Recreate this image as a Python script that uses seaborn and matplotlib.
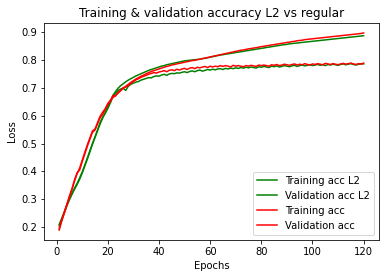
import matplotlib
matplotlib.use("Agg")
import matplotlib.pyplot as plt
import seaborn as sns
import pandas as pd

epochs = list(range(1, 121))

train_acc_l2 = [
    0.205, 0.228, 0.252, 0.276, 0.298, 0.318, 0.336, 0.353, 0.372, 0.394,
    0.419, 0.444, 0.470, 0.497, 0.521, 0.546, 0.570, 0.591, 0.611, 0.632,
    0.652, 0.672, 0.686, 0.698, 0.707, 0.714, 0.721, 0.727, 0.732, 0.737,
    0.742, 0.746, 0.750, 0.754, 0.758, 0.762, 0.765, 0.768, 0.771, 0.774,
    0.777, 0.779, 0.782, 0.784, 0.786, 0.788, 0.790, 0.792, 0.794, 0.796,
    0.797, 0.798, 0.799, 0.800, 0.801, 0.802, 0.804, 0.805, 0.807, 0.809,
    0.811, 0.813, 0.815, 0.817, 0.818, 0.820, 0.821, 0.823, 0.824, 0.826,
    0.827, 0.829, 0.830, 0.832, 0.833, 0.835, 0.836, 0.838, 0.839, 0.841,
    0.842, 0.844, 0.845, 0.847, 0.848, 0.850, 0.851, 0.853, 0.854, 0.855,
    0.857, 0.858, 0.859, 0.860, 0.861, 0.862, 0.863, 0.864, 0.865, 0.866,
    0.867, 0.868, 0.869, 0.870, 0.871, 0.872, 0.873, 0.874, 0.875, 0.876,
    0.877, 0.878, 0.879, 0.880, 0.881, 0.882, 0.883, 0.884, 0.885, 0.886,
]

val_acc_l2 = [
    0.210, 0.232, 0.255, 0.280, 0.302, 0.322, 0.340, 0.357, 0.377, 0.398,
    0.423, 0.448, 0.474, 0.500, 0.524, 0.549, 0.575, 0.594, 0.608, 0.625,
    0.645, 0.668, 0.680, 0.690, 0.695, 0.698, 0.690, 0.705, 0.712, 0.716,
    0.720, 0.722, 0.727, 0.730, 0.733, 0.736, 0.735, 0.740, 0.742, 0.741,
    0.745, 0.748, 0.744, 0.749, 0.751, 0.750, 0.753, 0.752, 0.755, 0.757,
    0.754, 0.758, 0.760, 0.757, 0.761, 0.763, 0.759, 0.762, 0.765, 0.763,
    0.766, 0.764, 0.767, 0.768, 0.765, 0.769, 0.767, 0.770, 0.768, 0.771,
    0.769, 0.772, 0.770, 0.773, 0.771, 0.774, 0.772, 0.770, 0.775, 0.773,
    0.776, 0.774, 0.772, 0.777, 0.775, 0.778, 0.774, 0.776, 0.779, 0.777,
    0.775, 0.778, 0.780, 0.776, 0.779, 0.781, 0.778, 0.780, 0.782, 0.779,
    0.781, 0.783, 0.780, 0.782, 0.779, 0.783, 0.781, 0.784, 0.782, 0.780,
    0.783, 0.785, 0.782, 0.784, 0.786, 0.783, 0.781, 0.784, 0.786, 0.785,
]

train_acc = [
    0.190, 0.222, 0.250, 0.280, 0.308, 0.335, 0.365, 0.392, 0.412, 0.440,
    0.468, 0.495, 0.520, 0.545, 0.552, 0.575, 0.598, 0.612, 0.625, 0.643,
    0.655, 0.664, 0.672, 0.680, 0.689, 0.697, 0.705, 0.712, 0.719, 0.725,
    0.731, 0.736, 0.741, 0.745, 0.750, 0.754, 0.758, 0.761, 0.764, 0.767,
    0.770, 0.773, 0.776, 0.778, 0.781, 0.783, 0.785, 0.787, 0.789, 0.791,
    0.793, 0.795, 0.797, 0.798, 0.800, 0.802, 0.804, 0.806, 0.808, 0.810,
    0.812, 0.814, 0.816, 0.818, 0.820, 0.822, 0.824, 0.826, 0.828, 0.830,
    0.832, 0.834, 0.835, 0.837, 0.839, 0.840, 0.842, 0.843, 0.845, 0.847,
    0.848, 0.850, 0.851, 0.853, 0.854, 0.856, 0.857, 0.859, 0.860, 0.862,
    0.863, 0.865, 0.866, 0.868, 0.869, 0.870, 0.872, 0.873, 0.874, 0.875,
    0.876, 0.877, 0.878, 0.879, 0.880, 0.881, 0.882, 0.883, 0.884, 0.885,
    0.886, 0.887, 0.888, 0.889, 0.890, 0.891, 0.892, 0.893, 0.894, 0.896,
]

val_acc = [
    0.195, 0.225, 0.255, 0.282, 0.312, 0.338, 0.370, 0.395, 0.405, 0.435,
    0.462, 0.490, 0.515, 0.540, 0.548, 0.570, 0.592, 0.605, 0.622, 0.640,
    0.650, 0.672, 0.670, 0.683, 0.690, 0.700, 0.702, 0.708, 0.715, 0.722,
    0.728, 0.732, 0.737, 0.741, 0.744, 0.748, 0.751, 0.754, 0.752, 0.756,
    0.758, 0.761, 0.757, 0.762, 0.764, 0.761, 0.766, 0.763, 0.767, 0.769,
    0.765, 0.770, 0.772, 0.768, 0.773, 0.771, 0.774, 0.776, 0.772, 0.777,
    0.774, 0.777, 0.775, 0.779, 0.776, 0.779, 0.777, 0.774, 0.780, 0.777,
    0.779, 0.777, 0.775, 0.779, 0.777, 0.780, 0.778, 0.776, 0.781, 0.779,
    0.781, 0.779, 0.777, 0.782, 0.780, 0.783, 0.779, 0.781, 0.784, 0.782,
    0.780, 0.783, 0.785, 0.781, 0.784, 0.782, 0.786, 0.783, 0.781, 0.785,
    0.783, 0.786, 0.784, 0.782, 0.787, 0.785, 0.783, 0.786, 0.784, 0.782,
    0.785, 0.787, 0.784, 0.786, 0.788, 0.785, 0.783, 0.786, 0.784, 0.788,
]

series = [
    ("Training acc L2", train_acc_l2, "green"),
    ("Validation acc L2", val_acc_l2, "green"),
    ("Training acc", train_acc, "red"),
    ("Validation acc", val_acc, "red"),
]

fig = plt.figure(figsize=(389 / 72, 278 / 72), dpi=72)
ax = fig.add_axes([0.113, 0.137, 0.861, 0.780])

for label, values, color in series:
    df = pd.DataFrame({"epoch": epochs, "acc": values})
    sns.lineplot(data=df, x="epoch", y="acc", color=color, label=label,
                 ax=ax, linewidth=1.5)

ax.set_title("Training & validation accuracy L2 vs regular", fontsize=12)
ax.set_xlabel("Epochs", fontsize=10)
ax.set_ylabel("Loss", fontsize=10)
ax.tick_params(labelsize=10)
ax.set_xticks([0, 20, 40, 60, 80, 100, 120])
ax.legend(loc="lower right", fontsize=10)

fig.savefig("out.png", dpi=72)
